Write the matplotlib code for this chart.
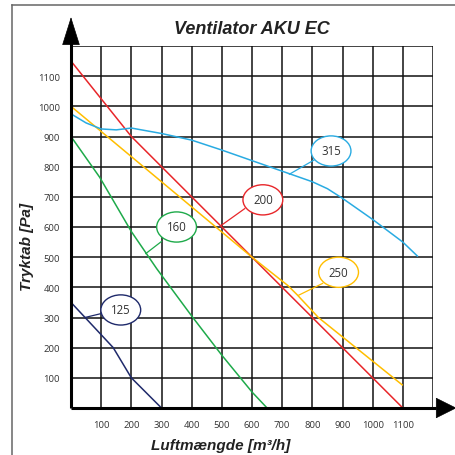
import matplotlib
matplotlib.use("Agg")
import matplotlib.pyplot as plt
from matplotlib.patches import Ellipse
from matplotlib.lines import Line2D

# ---- data ----
x_ticks = [100, 200, 300, 400, 500, 600, 700, 800, 900, 1000, 1100]
y_ticks = [100, 200, 300, 400, 500, 600, 700, 800, 900, 1000, 1100]

x125 = [0, 140, 200, 300]
y125 = [350, 200, 100, 0]

x160 = [0, 95, 200, 284, 400, 500, 600, 650]
y160 = [900, 765, 585, 462, 305, 175, 53, 0]

x200 = [0, 200, 1100]
y200 = [1150, 900, 0]

x250 = [0, 600, 720, 750, 820, 1100]
y250 = [1000, 500, 405, 375, 300, 75]

x315 = [0, 50, 100, 150, 200, 300, 400, 500, 600, 700, 800, 850, 900, 1000, 1100, 1150]
y315 = [975, 945, 925, 922, 928, 910, 888, 855, 820, 785, 750, 727, 695, 625, 550, 502]

series_names = ["125", "160", "200", "250", "315"]
series_x = [x125, x160, x200, x250, x315]
series_y = [y125, y160, y200, y250, y315]
colors = ["#1f2a6b", "#1eaa4a", "#e8262a", "#ffbe00", "#29abe2"]

# label bubble centres and connector lines (data coords)
label_centres = [(165, 325), (350, 600), (636, 690), (887, 450), (862, 852)]
label_lines = [((100, 313), (46, 300)), ((300, 552), (248, 512)),
               ((576, 661), (499, 606)), ((834, 413), (755, 374)),
               ((809, 824), (724, 775))]

# ---- figure ----
W = 456
fig = plt.figure(figsize=(4.56, 4.56), dpi=100)
fig.patch.set_facecolor("white")

# outer frame (top and left visible)
fig.add_artist(Line2D([12 / W, 1.0], [1 - 6 / W, 1 - 6 / W], color="#666666", lw=1.1,
                      transform=fig.transFigure))
fig.add_artist(Line2D([12 / W, 12 / W], [0, 1 - 6 / W], color="#666666", lw=1.1,
                      transform=fig.transFigure))

x0, x1 = 71, 433
y0, y1 = 409, 47
ax = fig.add_axes([x0 / W, (W - y0) / W, (x1 - x0) / W, (y0 - y1) / W])
ax.set_xlim(0, 1200)
ax.set_ylim(0, 1200)
for s in ax.spines.values():
    s.set_visible(False)

ax.set_xticks(range(0, 1201, 100))
ax.set_yticks(range(0, 1201, 100))
ax.set_xticklabels([str(v) if v in x_ticks else "" for v in range(0, 1201, 100)])
ax.set_yticklabels([str(v) if v in y_ticks else "" for v in range(0, 1201, 100)])
ax.tick_params(length=0, labelsize=6.8, labelcolor="#333333", pad=9)
ax.tick_params(axis="y", pad=8)
for lab in ax.get_xticklabels() + ax.get_yticklabels():
    lab.set_fontfamily("Open Sans")
ax.grid(True, color="#111111", lw=1.1)
ax.set_axisbelow(True)

# curves
for xs, ys, c in zip(series_x, series_y, colors):
    ax.plot(xs, ys, color=c, lw=1.1, zorder=3, solid_capstyle="butt")

# labels
for name, (cx, cy), (p, q), c in zip(series_names, label_centres, label_lines, colors):
    ax.plot([p[0], q[0]], [p[1], q[1]], color=c, lw=0.9, zorder=4)
    ax.add_patch(Ellipse((cx, cy), 132, 100, facecolor="white", edgecolor=c, lw=1.0, zorder=5))
    ax.text(cx, cy, name, ha="center", va="center", fontsize=8.3, color="#333333",
            family="Open Sans", zorder=6)

# axes with arrows
ax.plot([0, 0], [0, 1215], color="black", lw=2.2, clip_on=False, zorder=7, solid_capstyle="butt")
ax.plot([0, 1210], [0, 0], color="black", lw=2.2, clip_on=False, zorder=7, solid_capstyle="butt")
ax.annotate("", xy=(0, 1296), xytext=(0, 1200), xycoords="data",
            arrowprops=dict(arrowstyle="-|>,head_length=1.9,head_width=0.6",
                            mutation_scale=10, color="black", lw=0.5, shrinkA=0, shrinkB=0),
            annotation_clip=False, zorder=8)
ax.annotate("", xy=(1278, 0), xytext=(1200, 0), xycoords="data",
            arrowprops=dict(arrowstyle="-|>,head_length=1.4,head_width=0.7",
                            mutation_scale=10, color="black", lw=0.5, shrinkA=0, shrinkB=0),
            annotation_clip=False, zorder=8)

# texts
fig.text(252 / W, 1 - 30 / W, "Ventilator AKU EC", ha="center", va="center",
         fontsize=13, fontweight="bold", fontstyle="italic", family="Liberation Sans",
         color="#222222")
fig.text(221 / W, 1 - 446 / W, "Luftmængde [m³/h]", ha="center", va="center",
         fontsize=11, fontweight="bold", fontstyle="italic", family="Liberation Sans",
         color="#222222")
fig.text(27 / W, 1 - 247 / W, "Tryktab [Pa]", ha="center", va="center", rotation=90,
         fontsize=11, fontweight="bold", fontstyle="italic", family="Liberation Sans",
         color="#222222")

fig.savefig("out.png", dpi=100, facecolor="white")
